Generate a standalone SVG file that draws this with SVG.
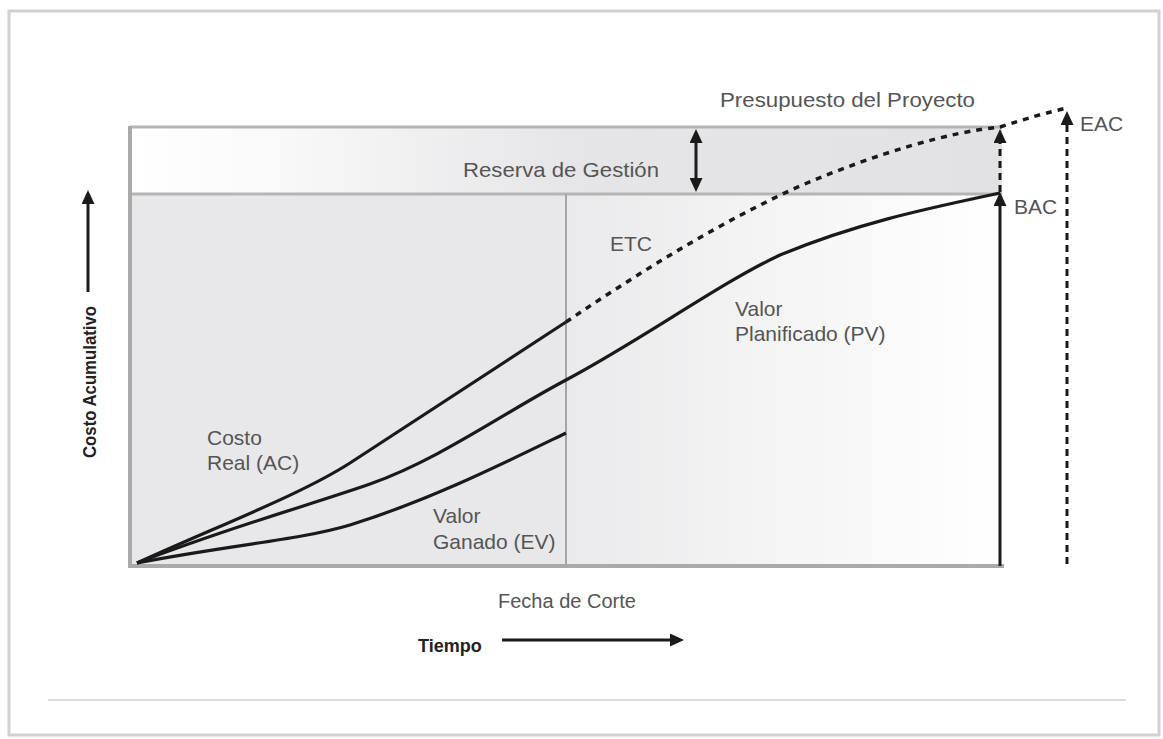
<svg xmlns="http://www.w3.org/2000/svg" width="1163" height="739" viewBox="0 0 1163 739">
<style>
.lbl{font-family:"Liberation Sans",Arial,sans-serif;font-size:21px;fill:#555}
.bold{font-family:"Liberation Sans",Arial,sans-serif;font-size:18px;font-weight:bold;fill:#222}
.curve{fill:none;stroke:#1a1a1a;stroke-width:3.2}
.dash{fill:none;stroke:#1a1a1a;stroke-width:3.5;stroke-dasharray:6 6}
.arrow{stroke:#1a1a1a;stroke-width:3;fill:none}
</style>
<defs>
<linearGradient id="gBand" x1="0" y1="0" x2="1" y2="0">
<stop offset="0" stop-color="#ffffff"/>
<stop offset="0.15" stop-color="#fafafb"/>
<stop offset="0.5" stop-color="#e6e6e8"/>
<stop offset="1" stop-color="#e2e2e4"/>
</linearGradient>
<linearGradient id="gRight" x1="0" y1="0" x2="1" y2="0">
<stop offset="0" stop-color="#eaeaec"/>
<stop offset="0.6" stop-color="#f7f7f8"/>
<stop offset="1" stop-color="#ffffff"/>
</linearGradient>
<marker id="ah" viewBox="0 0 14 13" refX="5" refY="6.5" markerWidth="14" markerHeight="13" orient="auto-start-reverse" markerUnits="userSpaceOnUse">
<path d="M0,0 L14,6.5 L0,13 z" fill="#1a1a1a"/>
</marker>
</defs>

<g id="frame">
<rect x="9" y="11" width="1150" height="724" fill="#ffffff" stroke="#d0d0d0" stroke-width="3"/>
<line x1="48" y1="700" x2="1126" y2="700" stroke="#dcdcdc" stroke-width="2"/>
</g>

<g id="chart-area">
<rect id="band" x="130" y="127" width="872" height="67" fill="url(#gBand)"/>
<rect id="left-region" x="130" y="194" width="436" height="372" fill="#e8e8ea"/>
<rect id="right-region" x="566" y="194" width="436" height="372" fill="url(#gRight)"/>
<line x1="130" y1="127" x2="1002" y2="127" stroke="#b5b5b5" stroke-width="3"/>
<line x1="130" y1="194" x2="1002" y2="194" stroke="#b5b5b5" stroke-width="3"/>
<line x1="130" y1="126" x2="130" y2="568" stroke="#aaaaaa" stroke-width="4"/>
<line x1="128" y1="566" x2="1004" y2="566" stroke="#aaaaaa" stroke-width="4"/>
<line x1="566" y1="194" x2="566" y2="566" stroke="#a5a5a5" stroke-width="2"/>
</g>

<g id="connectors">
<path id="ac" class="curve" d="M137,563 C220,525 300,495 350,463 C430,410 500,365 566,322"/>
<path id="etc" class="dash" d="M566,322 C640,272 720,222 800,186 C880,152 950,132 1000,127 Q1040,114 1067,108"/>
<path id="pv" class="curve" d="M137,563 C230,527 310,505 370,484 C440,459 500,415 566,380 C640,341 720,283 780,255 C860,222 930,208 1000,193"/>
<path id="ev" class="curve" d="M137,563 C230,545 300,540 350,525 C430,500 500,465 566,433"/>
<line id="reserve-arrow" class="arrow" x1="696" y1="138" x2="696" y2="183" marker-start="url(#ah)" marker-end="url(#ah)"/>
<line id="bac-arrow" class="arrow" x1="1000" y1="566" x2="1000" y2="201" marker-end="url(#ah)"/>
<line id="reserve-up" class="arrow" x1="1000" y1="192" x2="1000" y2="138" stroke-dasharray="7 5" marker-end="url(#ah)"/>
<line id="eac-arrow" class="arrow" x1="1067" y1="564" x2="1067" y2="120" stroke-dasharray="7 5" marker-end="url(#ah)"/>
<line id="cost-axis" class="arrow" x1="88" y1="292" x2="88" y2="199" stroke="#222" stroke-width="2.5" marker-end="url(#ah)"/>
<line id="time-axis" class="arrow" x1="502" y1="640" x2="675" y2="640" stroke="#222" stroke-width="2.5" marker-end="url(#ah)"/>
</g>

<g id="labels">
<text class="lbl" x="720" y="107" textLength="255" lengthAdjust="spacingAndGlyphs">Presupuesto del Proyecto</text>
<text class="lbl" x="463" y="177" textLength="196" lengthAdjust="spacingAndGlyphs">Reserva de Gestión</text>
<text class="lbl" x="610" y="251">ETC</text>
<text class="lbl" x="735" y="316">Valor</text>
<text class="lbl" x="735" y="341">Planificado (PV)</text>
<text class="lbl" x="207" y="445">Costo</text>
<text class="lbl" x="207" y="470">Real (AC)</text>
<text class="lbl" x="433" y="523">Valor</text>
<text class="lbl" x="433" y="549">Ganado (EV)</text>
<text class="lbl" x="498" y="608" style="font-size:20px">Fecha de Corte</text>
<text class="lbl" x="1014" y="214">BAC</text>
<text class="lbl" x="1080" y="131">EAC</text>
<text class="bold" x="418" y="652">Tiempo</text>
<text class="bold" transform="translate(96,458) rotate(-90)" textLength="152" lengthAdjust="spacingAndGlyphs">Costo Acumulativo</text>
</g>
</svg>
